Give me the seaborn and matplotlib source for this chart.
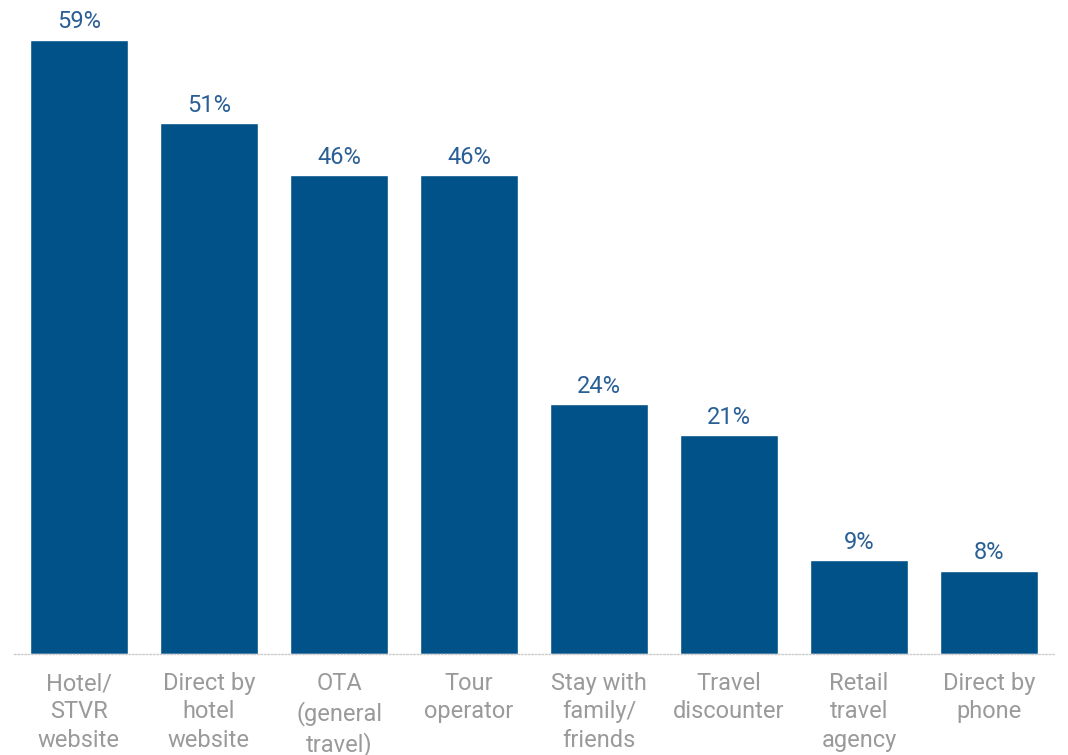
import numpy as np
import pandas as pd
import matplotlib
matplotlib.use("Agg")
import matplotlib.pyplot as plt
from matplotlib.ticker import FixedLocator
import seaborn as sns

channels = ["Hotel/\nSTVR\nwebsite", "Direct by\nhotel\nwebsite", "OTA\n(general\ntravel)",
            "Tour\noperator", "Stay with\nfamily/\nfriends", "Travel\ndiscounter",
            "Retail\ntravel\nagency", "Direct by\nphone"]
shares = [59, 51, 46, 46, 24, 21, 9, 8]

df = pd.DataFrame({"channel": channels, "share": shares})

bar_color = "#02528a"
label_color = "#2a5f96"
tick_color = "#9a9a9a"

sns.set_style("white")
plt.rcParams["font.family"] = ["Roboto", "DejaVu Sans"]

fig = plt.figure(figsize=(10.68, 7.55), dpi=100)
ax = fig.add_axes([14 / 1068, 101 / 755, 1040 / 1068, 654 / 755])

sns.barplot(data=df, x="channel", y="share", color=bar_color, saturation=1,
            width=0.75, ax=ax)

for i, v in enumerate(shares):
    ax.text(i, v + 0.6, f"{v}%", ha="center", va="bottom",
            fontsize=17, color=label_color)

ax.set_xlim(-0.5, len(channels) - 0.5)
ax.set_ylim(0, 62.8)
ax.set_xlabel("")
ax.set_ylabel("")
ax.set_yticks([])
for s in ["top", "right", "left"]:
    ax.spines[s].set_visible(False)
ax.spines["bottom"].set_color("#cccccc")
ax.spines["bottom"].set_linestyle((0, (1, 1.5)))
ax.spines["bottom"].set_linewidth(1)

ax.tick_params(axis="x", which="major", length=0, pad=13,
               labelsize=17, labelcolor=tick_color)
for t in ax.get_xticklabels():
    t.set_linespacing(1.3)
ax.xaxis.set_minor_locator(FixedLocator(np.arange(-0.5, len(channels), 1.0)))
ax.tick_params(axis="x", which="minor", length=6, color="#dddddd", width=0.8)

fig.savefig("out.png", dpi=100)
